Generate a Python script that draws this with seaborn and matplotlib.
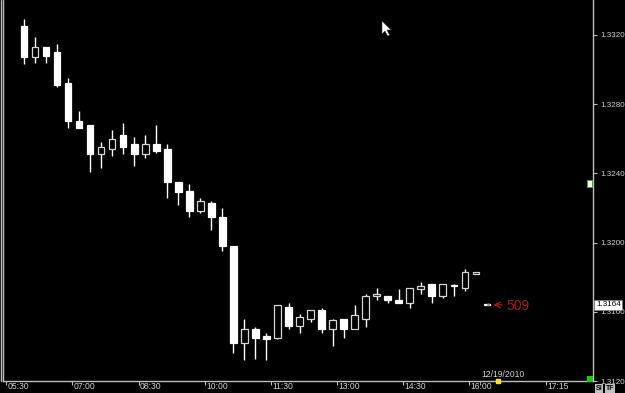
import matplotlib
matplotlib.use('Agg')
import matplotlib.pyplot as plt
import matplotlib.transforms as mtransforms
from matplotlib.patches import Rectangle, Polygon
import numpy as np
import pandas as pd
import seaborn as sns

# 15 minute bars, EUR/USD style quotes
opens = [1.3325, 1.3307, 1.3313, 1.3310, 1.3292, 1.3270, 1.3268, 1.3251, 1.3254, 1.3262,
         1.3257, 1.3251, 1.3257, 1.3254, 1.3235, 1.3230, 1.3218, 1.3223, 1.3215, 1.3198,
         1.3142, 1.3150, 1.3146, 1.3145, 1.3163, 1.3152, 1.3156, 1.3161, 1.3150, 1.3156,
         1.3150, 1.3156, 1.3169, 1.3169, 1.3167, 1.3165, 1.3173, 1.3176, 1.3169, 1.3175,
         1.3174, 1.3182, 1.3164]
highs = [1.3329, 1.3319, 1.3313, 1.3315, 1.3295, 1.3276, 1.3268, 1.3258, 1.3265, 1.3269,
         1.3261, 1.3262, 1.3268, 1.3257, 1.3235, 1.3234, 1.3226, 1.3224, 1.3220, 1.3198,
         1.3156, 1.3151, 1.3148, 1.3164, 1.3165, 1.3159, 1.3161, 1.3162, 1.3156, 1.3156,
         1.3164, 1.3170, 1.3174, 1.3169, 1.3173, 1.3174, 1.3177, 1.3176, 1.3176, 1.3176,
         1.3185, 1.3183, 1.3164]
lows = [1.3303, 1.3304, 1.3304, 1.3290, 1.3266, 1.3266, 1.3241, 1.3243, 1.3250, 1.3251,
        1.3244, 1.3249, 1.3252, 1.3226, 1.3222, 1.3215, 1.3217, 1.3207, 1.3195, 1.3136,
        1.3132, 1.3133, 1.3132, 1.3144, 1.3150, 1.3148, 1.3154, 1.3148, 1.3140, 1.3145,
        1.3150, 1.3151, 1.3167, 1.3165, 1.3165, 1.3162, 1.3170, 1.3165, 1.3168, 1.3169,
        1.3172, 1.3182, 1.3164]
closes = [1.3307, 1.3313, 1.3308, 1.3291, 1.3270, 1.3266, 1.3251, 1.3255, 1.3260, 1.3255,
          1.3251, 1.3257, 1.3253, 1.3235, 1.3229, 1.3218, 1.3224, 1.3215, 1.3198, 1.3142,
          1.3150, 1.3145, 1.3144, 1.3164, 1.3152, 1.3157, 1.3161, 1.3150, 1.3155, 1.3150,
          1.3158, 1.3169, 1.3170, 1.3167, 1.3165, 1.3174, 1.3175, 1.3169, 1.3176, 1.3175,
          1.3183, 1.3183, 1.3164]

tick_pos = [-1.6, 4.4, 10.4, 16.4, 22.4, 28.4, 34.4, 40.4, 47.4]
tick_labels = ["05:30", "07:00", "08:30", "10:00", "11:30", "13:00", "14:30", "16:00", "17:15"]
price_ticks = [1.3120, 1.3160, 1.3200, 1.3240, 1.3280, 1.3320]
date_pos = 41.4
date_label = "12/19/2010"
last_price = 1.3164
note_text = "509"

sns.set_style("dark", {"axes.facecolor": "black", "figure.facecolor": "black"})
plt.rcParams['font.family'] = ['Liberation Sans', 'DejaVu Sans']

df = pd.DataFrame({"o": opens, "h": highs, "l": lows, "c": closes})
df["i"] = np.arange(len(df))
df["up"] = df["c"] > df["o"]
df["bottom"] = df[["o", "c"]].min(axis=1)
df["size"] = (df["c"] - df["o"]).abs().clip(lower=0.00004)

fig = plt.figure(figsize=(6.25, 3.93), dpi=100, facecolor="black")
ax = fig.add_axes([3 / 625, 12 / 393, 590 / 625, 381 / 393])
ax.set_facecolor("black")

grey = "#bdbdbd"
fs = 5.8

# wicks then bodies
ax.vlines(df["i"], df["l"], df["h"], color="white", lw=1, zorder=1)
ax.bar(df["i"], df["size"], bottom=df["bottom"], width=0.6,
       color=np.where(df["up"], "black", "white"),
       edgecolor=np.where(df["up"], "#d6d6d6", "white"), lw=0.9, zorder=2)

ax.set_xlim(-1.906, 51.63)
ax.set_ylim(1.3120, 1.334023)

ax.spines["top"].set_visible(False)
for s in ["left", "right", "bottom"]:
    ax.spines[s].set_visible(True)
    ax.spines[s].set_color(grey)
    ax.spines[s].set_linewidth(1)

ax.set_xticks(tick_pos)
ax.set_xticklabels(tick_labels)
ax.set_xticks([date_pos], minor=True)
ax.tick_params(axis="x", which="both", bottom=True, length=3, color=grey,
               labelcolor="#d0d0d0", labelsize=6.2, pad=-2)
shift = mtransforms.ScaledTranslation(1.5 / 100, 0, fig.dpi_scale_trans)
for lbl in ax.get_xticklabels():
    lbl.set_ha("left")
    lbl.set_transform(lbl.get_transform() + shift)

ax.set_yticks(price_ticks)
ax.set_yticklabels(["%.4f" % p for p in price_ticks])
ax.yaxis.tick_right()
ax.tick_params(axis="y", right=True, left=False, length=3, color=grey,
               labelcolor="#d0d0d0", labelsize=fs, pad=2)
ax.grid(False)
ax.set_xlabel("")
ax.set_ylabel("")

# date marker on the time axis
ax.annotate(date_label, xy=(date_pos, 0), xycoords=("data", "axes fraction"),
            xytext=(0.5, 1.5), textcoords="offset points", ha="left", va="bottom",
            color="#d0d0d0", fontsize=6.2)
ax.plot([date_pos + 1.6], [0], marker="s", ms=2.5, color="#ffe020",
        transform=mtransforms.blended_transform_factory(ax.transData, ax.transAxes),
        clip_on=False, zorder=5)

# last price tag on the scale
trans = mtransforms.blended_transform_factory(ax.transAxes, ax.transData)
ax.text(1.005, last_price, "%.4f" % last_price, transform=trans, ha="left", va="center",
        fontsize=fs, color="black",
        bbox=dict(boxstyle="square,pad=0.2", fc="white", ec="#808080", lw=0.5))

# red note arrow
sns.scatterplot(x=[len(df) - 1 + 0.15], y=[last_price], color="#909090", s=4,
                edgecolor="none", ax=ax, zorder=4)
ax.annotate("", xy=(len(df) - 1 + 0.35, last_price), xytext=(len(df) - 1 + 1.65, last_price),
            arrowprops=dict(arrowstyle="->", color="#b01818", lw=0.9))
ax.text(len(df) - 1 + 1.8, last_price - 0.00006, note_text, color="#a81c1c",
        fontsize=10, ha="left", va="center")

# screen furniture: left border, green box, buttons, cursor
fig.add_artist(plt.Line2D([0.5 / 625, 0.5 / 625], [12 / 393, 1], color=grey, lw=1))
fig.add_artist(Rectangle((587, 393 - 382), 6, 6, transform=None, fc="#10d010", ec="none"))
fig.add_artist(Rectangle((587, 393 - 187), 5, 7, transform=None, fc="white", ec="#50a050", lw=0.8))
fig.text(595.5 / 625, 4.5 / 393, "S!", color="black", fontsize=5, weight="bold", va="center",
         bbox=dict(boxstyle="square,pad=0.12", fc="#c0c0c0", ec="none"))
fig.text(606 / 625, 4.5 / 393, "TF", color="black", fontsize=5, weight="bold", va="center",
         bbox=dict(boxstyle="square,pad=0.12", fc="#c0c0c0", ec="none"))
tip = np.array([382, 393 - 21])
cursor = np.array([(0, 0), (0, -13), (3, -10), (5.5, -15), (7.5, -14), (5, -9), (9, -9)]) + tip
fig.add_artist(Polygon(cursor, closed=True, transform=None, fc="white", ec="#404040", lw=0.4))

fig.savefig("out.png", dpi=100, facecolor="black")
